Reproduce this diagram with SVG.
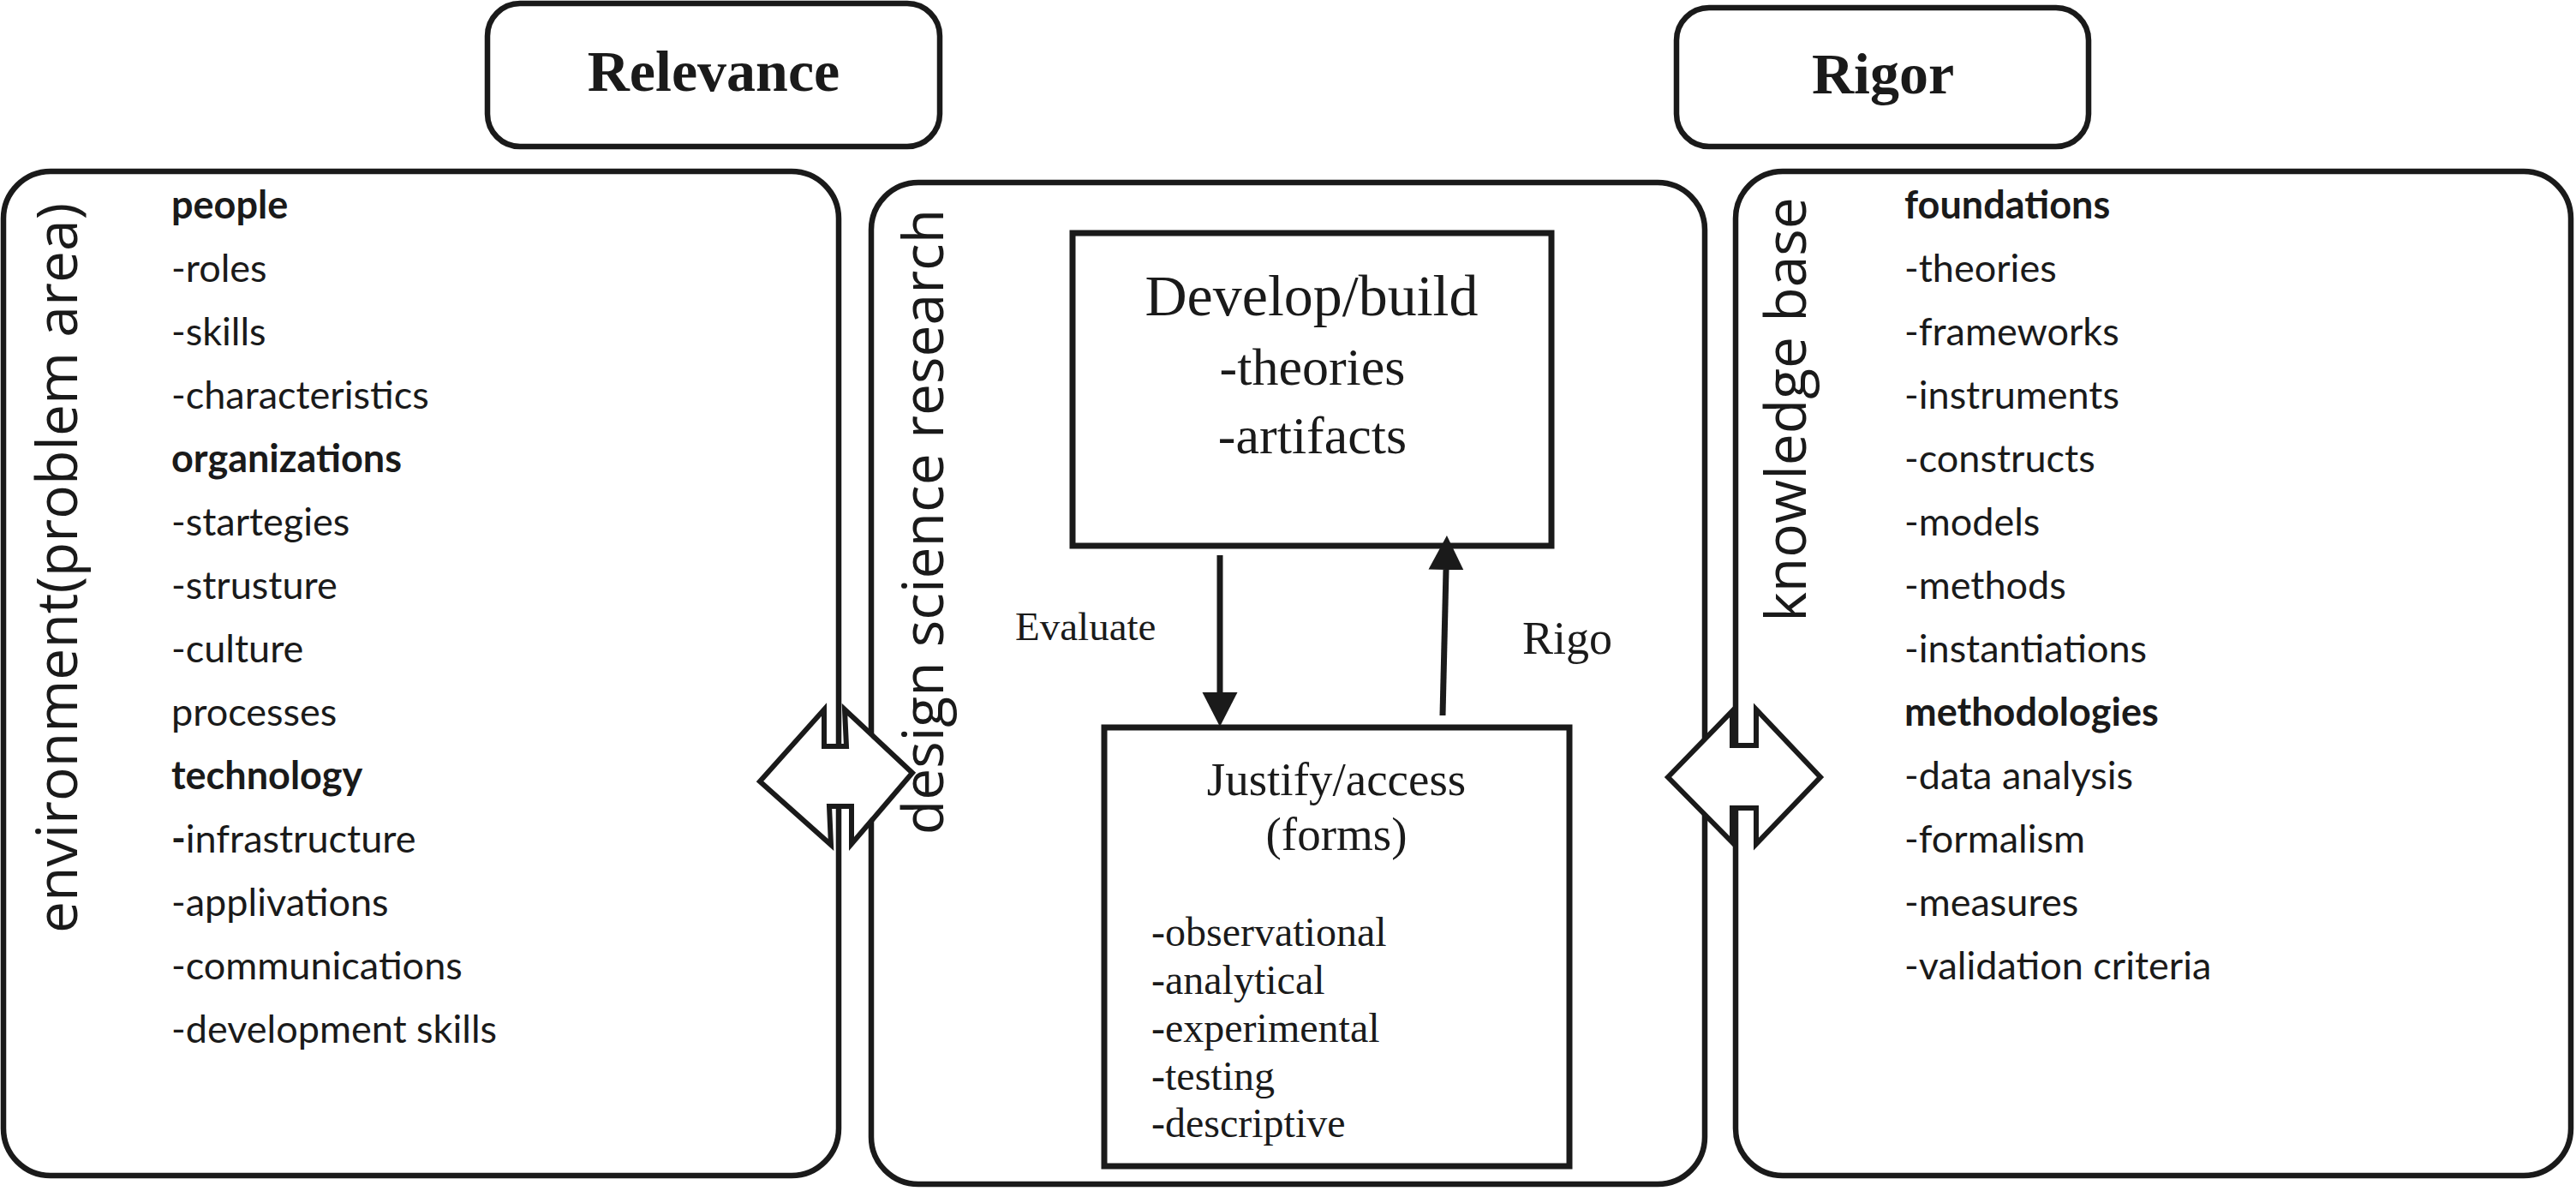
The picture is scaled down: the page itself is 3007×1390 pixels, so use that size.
<svg xmlns="http://www.w3.org/2000/svg" width="3007" height="1390" viewBox="0 0 3007 1390">
<style>
.box{fill:none;stroke:#1a1a1a;stroke-width:6.5}
.sq{fill:none;stroke:#1a1a1a;stroke-width:7}
.list{font-family:Lato,"Liberation Sans",sans-serif;font-size:45px;fill:#1a1a1a}
.b{font-weight:bold}
.vert{font-family:"Open Sans","Noto Sans",sans-serif;font-size:66px;fill:#1a1a1a;text-anchor:middle}
.hdr{font-family:"Liberation Serif","Times New Roman",serif;font-weight:bold;font-size:68px;fill:#1a1a1a;text-anchor:middle}
.ser{font-family:"Liberation Serif","Times New Roman",serif;fill:#1a1a1a}
.mid{text-anchor:middle}
.blk{fill:#fff;stroke:#1a1a1a;stroke-width:6;stroke-linejoin:miter}
.conn{stroke:#1a1a1a;stroke-width:7;fill:none}
</style>
<defs>
<marker id="ah" markerUnits="userSpaceOnUse" markerWidth="42" markerHeight="42" refX="0" refY="20.5" orient="auto">
<path d="M0,0 L40,20.5 L0,41 z" fill="#1a1a1a"/>
</marker>
</defs>
<rect width="3007" height="1390" fill="#fff"/>

<g id="relevance">
<rect class="box" x="569" y="4" width="528" height="167" rx="38"/>
<text class="hdr" x="833" y="106">Relevance</text>
</g>

<g id="rigor">
<rect class="box" x="1957" y="9" width="481" height="162" rx="38"/>
<text class="hdr" x="2198" y="109">Rigor</text>
</g>

<g id="environment">
<rect class="box" x="4" y="200" width="975" height="1172" rx="55"/>
<text class="vert" transform="translate(90,663) rotate(-90)">environment(problem area)</text>
<text class="list">
<tspan class="b" x="200" y="255">people</tspan>
<tspan x="200" y="329">-roles</tspan>
<tspan x="200" y="403">-skills</tspan>
<tspan x="200" y="477">-characteristics</tspan>
<tspan class="b" x="200" y="551">organizations</tspan>
<tspan x="200" y="625">-startegies</tspan>
<tspan x="200" y="699">-strusture</tspan>
<tspan x="200" y="773">-culture</tspan>
<tspan x="200" y="847">processes</tspan>
<tspan class="b" x="200" y="921">technology</tspan>
<tspan class="b" x="200" y="995">-</tspan><tspan>infrastructure</tspan>
<tspan x="200" y="1069">-applivations</tspan>
<tspan x="200" y="1143">-communications</tspan>
<tspan x="200" y="1217">-development skills</tspan>
</text>
</g>

<g id="design-science-research">
<rect class="box" x="1017" y="213" width="973" height="1169" rx="55"/>
<text class="vert" transform="translate(1101,609) rotate(-90)">design science research</text>
</g>

<g id="knowledge-base">
<rect class="box" x="2026" y="200" width="975" height="1172" rx="55"/>
<text class="vert" transform="translate(2108,478) rotate(-90)">knowledge base</text>
<text class="list">
<tspan class="b" x="2223" y="255">foundations</tspan>
<tspan x="2223" y="329">-theories</tspan>
<tspan x="2223" y="403">-frameworks</tspan>
<tspan x="2223" y="477">-instruments</tspan>
<tspan x="2223" y="551">-constructs</tspan>
<tspan x="2223" y="625">-models</tspan>
<tspan x="2223" y="699">-methods</tspan>
<tspan x="2223" y="773">-instantiations</tspan>
<tspan class="b" x="2223" y="847">methodologies</tspan>
<tspan x="2223" y="921">-data analysis</tspan>
<tspan x="2223" y="995">-formalism</tspan>
<tspan x="2223" y="1069">-measures</tspan>
<tspan x="2223" y="1143">-validation criteria</tspan>
</text>
</g>

<g id="develop-build">
<rect class="sq" x="1252" y="272" width="559" height="365"/>
<text class="ser mid" x="1531" y="368" font-size="68">Develop/build</text>
<text class="ser mid" x="1532" y="449" font-size="62">-theories</text>
<text class="ser mid" x="1532" y="529" font-size="62">-artifacts</text>
</g>

<g id="justify-access">
<rect class="sq" x="1289" y="849" width="543" height="512"/>
<text class="ser mid" x="1560" y="928" font-size="55">Justify/access</text>
<text class="ser mid" x="1560" y="992" font-size="55">(forms)</text>
<text class="ser" font-size="48">
<tspan x="1344" y="1104">-observational</tspan>
<tspan x="1344" y="1160">-analytical</tspan>
<tspan x="1344" y="1216">-experimental</tspan>
<tspan x="1344" y="1272">-testing</tspan>
<tspan x="1344" y="1327">-descriptive</tspan>
</text>
</g>

<g id="connectors">
<polygon class="blk" points="887,912 962,828 962,871 988,871 986,828 1065,902 994,985 994,941 968,941 970,986"/>
<polygon class="blk" points="1947,907 2022,830 2022,870 2050,870 2050,828 2125,907 2050,985 2050,943 2022,943 2022,983"/>
<line class="conn" x1="1424" y1="648" x2="1424" y2="808" marker-end="url(#ah)"/>
<line class="conn" x1="1684" y1="835" x2="1688" y2="665" marker-end="url(#ah)"/>
<text class="ser" x="1185" y="747" font-size="47">Evaluate</text>
<text class="ser" x="1777" y="763" font-size="54">Rigo</text>
</g>
</svg>
